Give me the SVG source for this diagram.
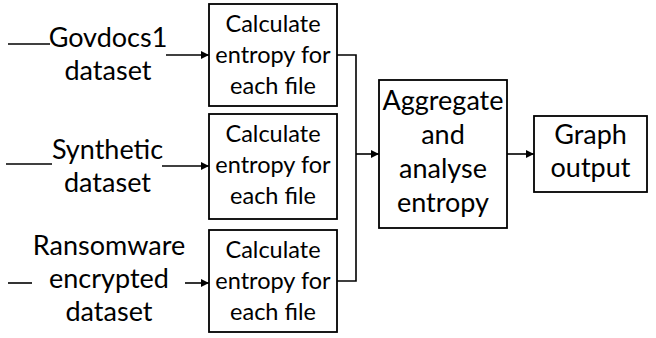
<svg xmlns="http://www.w3.org/2000/svg" width="656" height="338" viewBox="0 0 656 338">
<defs>
<marker id="ah" viewBox="0 0 10 10" refX="10" refY="5" markerWidth="10" markerHeight="8" markerUnits="userSpaceOnUse" orient="auto">
<path d="M0,0 L10,5 L0,10 z" fill="#000"/>
</marker>
</defs>
<style>
.box{fill:#fff;stroke:#000;stroke-width:1.8}
.ln{fill:none;stroke:#000;stroke-width:1.6}
.t{font-family:Lato,"Liberation Sans",sans-serif;fill:#000;text-anchor:middle}
.big{font-size:27px}
.sm{font-size:23.5px}
</style>
<rect width="656" height="338" fill="#fff"/>
<g id="connectors">
<line class="ln" x1="8" y1="44" x2="50" y2="44"/>
<line class="ln" x1="166" y1="55" x2="209" y2="55" marker-end="url(#ah)"/>
<line class="ln" x1="6" y1="164" x2="52" y2="164"/>
<line class="ln" x1="162" y1="166" x2="209" y2="166" marker-end="url(#ah)"/>
<line class="ln" x1="8" y1="283" x2="32" y2="283"/>
<line class="ln" x1="185" y1="283" x2="209" y2="283" marker-end="url(#ah)"/>
<polyline class="ln" points="337,55 356,55 356,281 337,281"/>
<line class="ln" x1="356" y1="154" x2="379" y2="154" marker-end="url(#ah)"/>
<line class="ln" x1="507" y1="154" x2="534" y2="154" marker-end="url(#ah)"/>
</g>
<g id="govdocs">
<text class="t big" x="108" y="47">Govdocs1</text>
<text class="t big" x="108" y="80">dataset</text>
</g>
<g id="synthetic">
<text class="t big" x="107.5" y="159">Synthetic</text>
<text class="t big" x="107.5" y="192">dataset</text>
</g>
<g id="ransomware">
<text class="t big" x="109" y="255">Ransomware</text>
<text class="t big" x="109" y="288">encrypted</text>
<text class="t big" x="109" y="321">dataset</text>
</g>
<g id="calc1">
<rect class="box" x="209" y="4" width="128" height="102"/>
<text class="t sm" x="273" y="32">Calculate</text>
<text class="t sm" x="273" y="63">entropy for</text>
<text class="t sm" x="273" y="94">each file</text>
</g>
<g id="calc2">
<rect class="box" x="209" y="114" width="128" height="105"/>
<text class="t sm" x="273" y="142">Calculate</text>
<text class="t sm" x="273" y="173">entropy for</text>
<text class="t sm" x="273" y="204">each file</text>
</g>
<g id="calc3">
<rect class="box" x="209" y="230" width="128" height="102"/>
<text class="t sm" x="273" y="258">Calculate</text>
<text class="t sm" x="273" y="289">entropy for</text>
<text class="t sm" x="273" y="320">each file</text>
</g>
<g id="aggregate">
<rect class="box" x="379" y="80" width="128" height="148"/>
<text class="t big" x="443" y="110">Aggregate</text>
<text class="t big" x="443" y="144">and</text>
<text class="t big" x="443" y="178">analyse</text>
<text class="t big" x="443" y="212">entropy</text>
</g>
<g id="graph">
<rect class="box" x="534" y="116" width="113" height="76"/>
<text class="t big" x="590.5" y="144">Graph</text>
<text class="t big" x="590.5" y="177">output</text>
</g>
</svg>
